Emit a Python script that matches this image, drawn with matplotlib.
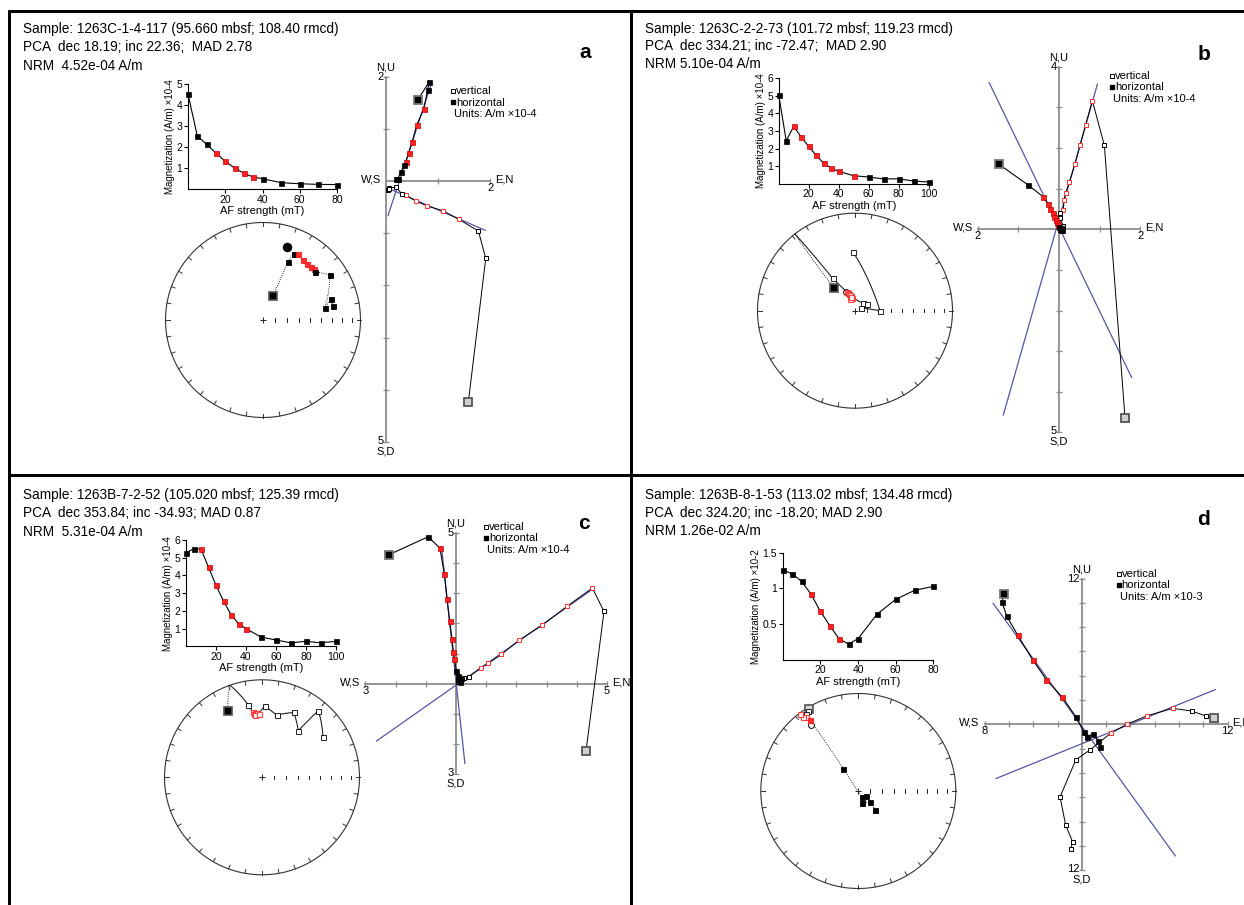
import numpy as np
import matplotlib
matplotlib.use("Agg")
import matplotlib.pyplot as plt

plt.rcParams['font.family'] = ['Liberation Sans', 'DejaVu Sans']

W, H = 1244, 905

# ---------------- panel a : 1263C-1-4-117 ----------------
a_header = ["Sample: 1263C-1-4-117 (95.660 mbsf; 108.40 rmcd)",
            "PCA  dec 18.19; inc 22.36;  MAD 2.78",
            "NRM  4.52e-04 A/m"]
a_pca = (18.19, 22.36)
a_field = [0, 5, 10, 15, 20, 25, 30, 35, 40, 50, 60, 70, 80]
a_mag = [4.52, 2.52, 2.13, 1.71, 1.32, 1.0, 0.75, 0.57, 0.49, 0.30, 0.25, 0.22, 0.21]
a_used = [15, 20, 25, 30, 35]
a_dec = [22.9, 23.2, 24.9, 28.1, 33.3, 38.2, 41.8, 44.8, 46.9, 56.1, 79.0, 72.7, 78.4]
a_inc = [68.6, 35.3, 26.4, 24.8, 27.0, 27.9, 27.6, 26.8, 28.3, 18.5, 35.9, 27.3, 28.0]
a_h_east = [0.607, 0.824, 0.799, 0.722, 0.588, 0.505, 0.435, 0.383, 0.351, 0.281, 0.224, 0.20, 0.21]
a_h_north = [1.553, 1.891, 1.751, 1.374, 1.073, 0.754, 0.543, 0.371, 0.307, 0.166, 0.038, 0.03, 0.045]
a_v_north = [1.578, 1.911, 1.770, 1.399, 1.099, 0.780, 0.569, 0.390, 0.313, 0.192, 0.064, 0.045, 0.06]
a_v_up = [-4.23, -1.482, -0.958, -0.735, -0.575, -0.473, -0.383, -0.275, -0.256, -0.121, -0.128, -0.173, -0.15]

# ---------------- panel b : 1263C-2-2-73 ----------------
b_header = ["Sample: 1263C-2-2-73 (101.72 mbsf; 119.23 rmcd)",
            "PCA  dec 334.21; inc -72.47;  MAD 2.90",
            "NRM 5.10e-04 A/m"]
b_pca = (334.21, -72.47)
b_field = [0, 5, 10, 15, 20, 25, 30, 35, 40, 50, 60, 70, 80, 90, 100]
b_mag = [5.05, 2.45, 3.26, 2.66, 2.12, 1.61, 1.16, 0.89, 0.70, 0.455, 0.38, 0.27, 0.28, 0.15, 0.095]
b_used = [10, 15, 20, 25, 30, 35, 40, 50]
b_dec = [317.2, 325.4, 336.4, 338.0, 339.8, 343.5, 341.0, 345.6, 336.0, 342.0, 48.7, 61.5, 63.4, 90.0, 358.0]
b_inc = [64.5, -57.0, -73.3, -74.5, -75.5, -77.3, -76.0, -78.8, -79.1, -78.0, -80.8, -79.0, -84.4, -69.1, -39.4]
b_h_east = [-1.478, -0.772, -0.394, -0.271, -0.213, -0.148, -0.115, -0.082, -0.057, -0.033, 0.0, 0.025, 0.049, 0.041, 0.066]
b_h_north = [1.601, 1.100, 0.805, 0.624, 0.509, 0.394, 0.312, 0.230, 0.164, 0.099, 0.049, 0.016, -0.016, 0.025, -0.025]
b_v_north = [1.626, 1.117, 0.821, 0.657, 0.517, 0.394, 0.255, 0.164, 0.123, 0.107, 0.033, 0.016, 0.107, 0.057, 0.025]
b_v_up = [-4.639, 2.069, 3.169, 2.578, 2.069, 1.601, 1.158, 0.903, 0.722, 0.468, 0.402, 0.287, 0.082, 0.016, -0.016]

# ---------------- panel c : 1263B-7-2-52 ----------------
c_header = ["Sample: 1263B-7-2-52 (105.020 mbsf; 125.39 rmcd)",
            "PCA  dec 353.84; inc -34.93; MAD 0.87",
            "NRM  5.31e-04 A/m"]
c_pca = (353.84, -34.93)
c_field = [0, 5, 10, 15, 20, 25, 30, 35, 40, 50, 60, 70, 80, 90, 100]
c_mag = [5.28, 5.49, 5.49, 4.46, 3.44, 2.56, 1.79, 1.28, 1.0, 0.53, 0.36, 0.20, 0.29, 0.20, 0.29]
c_used = [10, 15, 20, 25, 30, 35, 40]
c_dec = [332.8, 349.3, 352.0, 354.0, 355.0, 353.0, 356.0, 354.0, 357.0, 2.1, 13.2, 26.2, 37.9, 40.2, 56.7]
c_inc = [24.2, -25.6, -33.0, -34.0, -35.0, -35.0, -34.0, -36.0, -35.0, -27.8, -34.8, -26.8, -39.2, -11.6, -26.2]
c_h_east = [-2.219, -0.916, -0.530, -0.386, -0.298, -0.210, -0.132, -0.088, -0.055, 0.011, 0.055, 0.055, 0.11, 0.088, 0.132]
c_h_north = [4.272, 4.868, 4.481, 3.631, 2.815, 2.064, 1.479, 1.060, 0.806, 0.430, 0.265, 0.143, 0.17, 0.10, 0.066]
c_v_north = [4.305, 4.901, 4.514, 3.675, 2.848, 2.097, 1.501, 1.071, 0.828, 0.430, 0.276, 0.188, 0.17, 0.10, 0.066]
c_v_up = [-2.230, 2.395, 3.168, 2.561, 1.932, 1.446, 0.971, 0.673, 0.519, 0.232, 0.188, 0.143, 0.12, 0.08, 0.05]

# ---------------- panel d : 1263B-8-1-53 ----------------
d_header = ["Sample: 1263B-8-1-53 (113.02 mbsf; 134.48 rmcd)",
            "PCA  dec 324.20; inc -18.20; MAD 2.90",
            "NRM 1.26e-02 A/m"]
d_pca = (324.20, -18.20)
d_field = [0, 5, 10, 15, 20, 25, 30, 35, 40, 50, 60, 70, 80]
d_mag = [1.257, 1.206, 1.098, 0.921, 0.678, 0.477, 0.290, 0.22, 0.294, 0.636, 0.846, 0.972, 1.028]
d_used = [15, 20, 25, 30]
d_dec = [329.2, 328.0, 326.0, 324.5, 323.4, 322.8, 326.0, 326.5, 152.2, 124.3, 164.9, 132.4, 138.6]
d_inc = [-2.4, -3.0, -5.0, -8.0, -5.7, -0.5, 13.1, 67.5, 84.1, 82.7, 79.5, 77.0, 68.3]
d_h_east = [-6.42, -6.56, -6.18, -5.26, -4.05, -2.92, -1.59, -0.46, 0.14, 0.46, 0.95, 1.36, 1.53]
d_h_north = [10.72, 10.04, 8.90, 7.31, 5.32, 3.68, 2.21, 0.57, -0.60, -1.01, -0.79, -1.36, -1.83]
d_v_north = [10.84, 10.20, 9.08, 7.49, 5.40, 3.76, 2.37, 0.69, -0.49, -1.79, -1.33, -0.75, -0.92]
d_v_up = [0.49, 0.68, 1.09, 1.31, 0.71, 0.03, -0.74, -2.10, -2.92, -5.98, -8.29, -9.69, -10.29]

# ---------------- layout (pixels, y down) ----------------
panels = {
    'a': dict(header=(23, 29, 18.4), letter=(585, 52),
              decay=(188, 189, 149, 105, 80, 5, [1, 2, 3, 4, 5], "×10-4"),
              stereo=(263, 320), zijd=(386, 181, 52.2, (0, 2), (-5, 2), 1, ('2', '5', '', '2')),
              legend=(453.3, 91, "×10-4"), pca_span_h=(-1.566, 1.104), pca_span_v=(-0.909, 1.145)),
    'b': dict(header=(645, 29, 17.5), letter=(1204, 55),
              decay=(778.7, 183.7, 150, 105.4, 100, 6, [1, 2, 3, 4, 5, 6], "×10-4"),
              stereo=(855, 310.7), zijd=(1059, 229.3, 40.6, (-2, 2), (-5, 4), 1, ('4', '5', '2', '2')),
              legend=(1112, 76, "×10-4"), pca_span_h=(-4.489, 3.574), pca_span_v=(-6.40, 2.07)),
    'c': dict(header=(23, 495, 18.3), letter=(584, 523),
              decay=(186, 646.4, 150, 106.5, 100, 6, [1, 2, 3, 4, 5, 6], "×10-4"),
              stereo=(262, 777.3), zijd=(456, 683.7, 30.2, (-3, 5), (-3, 5), 1, ('5', '3', '3', '5')),
              legend=(486, 526.7, "×10-4"), pca_span_h=(-5.0, 2.215), pca_span_v=(-6.10, 2.63)),
    'd': dict(header=(645, 495, 17.9), letter=(1203, 519),
              decay=(782.7, 659.7, 150.7, 107, 80, 1.5, [0.5, 1, 1.5], "×10-2"),
              stereo=(858.3, 791), zijd=(1081.8, 724.3, 12.15, (-8, 12), (-12, 12), 2, ('12', '12', '8', '12')),
              legend=(1118.6, 573.7, "×10-3"), pca_span_h=(-19.06, 6.57), pca_span_v=(-12.74, 6.72)),
}
data = {
    'a': (a_header, a_pca, a_field, a_mag, a_used, a_dec, a_inc, a_h_east, a_h_north, a_v_north, a_v_up),
    'b': (b_header, b_pca, b_field, b_mag, b_used, b_dec, b_inc, b_h_east, b_h_north, b_v_north, b_v_up),
    'c': (c_header, c_pca, c_field, c_mag, c_used, c_dec, c_inc, c_h_east, c_h_north, c_v_north, c_v_up),
    'd': (d_header, d_pca, d_field, d_mag, d_used, d_dec, d_inc, d_h_east, d_h_north, d_v_north, d_v_up),
}

RED = '#ff2020'
RED_EDGE = '#c00000'
BLUE = '#5555a5'
GREY = '#8c8c8c'
PX = 0.72  # points per pixel at dpi 100
R_ST = 97.5

fig = plt.figure(figsize=(W / 100, H / 100), dpi=100)

canvas = fig.add_axes([0, 0, 1, 1])
canvas.set_xlim(0, W)
canvas.set_ylim(H, 0)
canvas.axis('off')


def px_axes(x0, top, w, h):
    ax = fig.add_axes([x0 / W, 1 - (top + h) / H, w / W, h / H])
    ax.patch.set_visible(False)
    return ax


def unit_vec(dec, inc):
    d, i = np.radians(dec), np.radians(inc)
    return np.array([np.cos(i) * np.sin(d), np.cos(i) * np.cos(d), np.sin(i)])


def project(p):
    # equal-area projection, both hemispheres folded onto the same net
    p = np.atleast_2d(p)
    h = np.hypot(p[:, 0], p[:, 1])
    h[h == 0] = 1e-9
    r = np.sqrt(np.clip(1 - np.abs(p[:, 2]), 0, 1))
    return r * p[:, 0] / h, r * p[:, 1] / h


def gc_runs(d1, i1, d2, i2, n=60):
    # great-circle path between two directions, split where it crosses the horizontal
    v1, v2 = unit_vec(d1, i1), unit_vec(d2, i2)
    om = np.arccos(np.clip(v1 @ v2, -1, 1))
    t = np.linspace(0, 1, n)[:, None]
    if om < 1e-6:
        p = (1 - t) * v1 + t * v2
    else:
        p = (np.sin((1 - t) * om) * v1 + np.sin(t * om) * v2) / np.sin(om)
    runs, cur, lower = [], [p[0]], p[0][2] >= 0
    for a, b in zip(p[:-1], p[1:]):
        if (a[2] >= 0) != (b[2] >= 0):
            c = a + a[2] / (a[2] - b[2]) * (b - a)
            c[2] = 0.0
            cur.append(c)
            runs.append((np.array(cur), lower))
            cur, lower = [c], not lower
        cur.append(b)
    runs.append((np.array(cur), lower))
    return runs


def draw_decay(spec, field, mag, used):
    x0, y0, w, h, xmax, ymax, yticks, unit = spec
    ax = px_axes(x0, y0 - h, w, h)
    ax.set_xlim(0, xmax)
    ax.set_ylim(0, ymax)
    for s in ['top', 'right']:
        ax.spines[s].set_visible(False)
    for s in ['left', 'bottom']:
        ax.spines[s].set_linewidth(0.8)
    ax.set_xticks(list(range(20, xmax + 1, 20)))
    ax.set_yticks(yticks)
    ax.set_yticklabels([f'{t:g}' for t in yticks])
    ax.tick_params(direction='out', length=3, width=0.8, labelsize=7.5, pad=1)
    ax.set_xlabel('AF strength (mT)', fontsize=8, labelpad=1)
    ax.set_ylabel('Magnetization (A/m) ' + unit, fontsize=7, labelpad=1)
    ax.plot(field, mag, color='black', lw=0.8, zorder=2, clip_on=False)
    for f, m in zip(field, mag):
        red = f in used
        ax.plot(f, m, 's', ms=3.6, mfc=RED if red else 'black',
                mec=RED_EDGE if red else 'black', mew=0.5, zorder=3, clip_on=False)


def draw_stereo(center, dec, inc, field, used, pca):
    cx, cy = center
    lim = 1.12
    side = 2 * lim * R_ST
    ax = px_axes(cx - side / 2, cy - side / 2, side, side)
    ax.set_xlim(-lim, lim)
    ax.set_ylim(-lim, lim)
    ax.set_aspect('equal')
    ax.axis('off')
    t = np.linspace(0, 2 * np.pi, 400)
    ax.plot(np.cos(t), np.sin(t), color='#333333', lw=0.8)
    tick = 4 / R_ST
    for k in range(36):
        a = np.radians(k * 10)
        ax.plot([(1 - tick) * np.sin(a), np.sin(a)], [(1 - tick) * np.cos(a), np.cos(a)],
                color='#333333', lw=0.7)
    for it in range(80, 0, -10):
        x, _ = project(unit_vec(90, it))
        ax.plot([x[0], x[0]], [-1.8 / R_ST, 1.8 / R_ST], color='#222222', lw=0.7)
    ax.plot(0, 0, '+', ms=4, mew=0.7, color='#222222')
    for j in range(len(dec) - 1):
        for pts, lower in gc_runs(dec[j], inc[j], dec[j + 1], inc[j + 1]):
            x, y = project(pts)
            if lower:
                ax.plot(x, y, color='#222222', lw=0.7, ls=(0, (1, 1.3)), zorder=2)
            else:
                ax.plot(x, y, color='#222222', lw=0.8, zorder=2)
    for k, (dd, ii, f) in enumerate(zip(dec, inc, field)):
        x, y = project(unit_vec(dd, ii))
        lower = ii >= 0
        red = f in used
        if k == 0:
            ax.plot(x, y, 's', ms=5.5, mfc='black' if lower else '#d8d8d8', mec='#555555',
                    mew=1.2, zorder=4)
        elif red:
            ax.plot(x, y, 's', ms=3.6, mfc=RED if lower else 'white', mec=RED if lower else '#ff3030',
                    mew=0.8, alpha=0.9, zorder=4)
        else:
            ax.plot(x, y, 's', ms=3.6, mfc='black' if lower else 'white', mec='black',
                    mew=0.6, zorder=4)
    x, y = project(unit_vec(*pca))
    if pca[1] >= 0:
        ax.plot(x, y, 'o', ms=5.8, mfc='black', mec='black', zorder=5)
    else:
        ax.plot(x, y, 'o', ms=4.2, mfc='white', mec='black', mew=0.7, zorder=3)


def draw_zijd(spec, field, used, pca, he, hn, vn, vu, span_h, span_v):
    ox, oy, s, hr, vr, step, ends = spec
    m = 16
    ax = px_axes(ox + hr[0] * s - m, oy - vr[1] * s - m,
                 (hr[1] - hr[0]) * s + 2 * m, (vr[1] - vr[0]) * s + 2 * m)
    ax.set_xlim(hr[0] - m / s, hr[1] + m / s)
    ax.set_ylim(vr[0] - m / s, vr[1] + m / s)
    ax.axis('off')
    ax.plot(hr, [0, 0], color=GREY, lw=1.3, zorder=1)
    ax.plot([0, 0], vr, color=GREY, lw=1.3, zorder=1)
    xt = [k for k in np.arange(hr[0], hr[1] + step / 2, step) if k != 0]
    yt = [k for k in np.arange(vr[0], vr[1] + step / 2, step) if k != 0]
    ax.plot(xt, np.zeros(len(xt)), '|', ms=5, mew=0.9, color=GREY, zorder=1)
    ax.plot(np.zeros(len(yt)), yt, '_', ms=5, mew=0.9, color=GREY, zorder=1)

    top, bottom, left, right = ends
    fs = 8
    kw = dict(textcoords='offset points', fontsize=fs, annotation_clip=False)
    ax.annotate('N,U', (0, vr[1]), xytext=(0, 4 * PX), ha='center', va='bottom', **kw)
    ax.annotate(top, (0, vr[1]), xytext=(-2 * PX, 0), ha='right', va='center', **kw)
    ax.annotate('S,D', (0, vr[0]), xytext=(0, -4 * PX), ha='center', va='top', **kw)
    ax.annotate(bottom, (0, vr[0]), xytext=(-2 * PX, 1), ha='right', va='center', **kw)
    ax.annotate('W,S', (hr[0], 0), xytext=(-5 * PX, 1), ha='right', va='center', **kw)
    if left:
        ax.annotate(left, (hr[0], 0), xytext=(0, -2 * PX), ha='center', va='top', **kw)
    ax.annotate('E,N', (hr[1], 0), xytext=(5 * PX, 1), ha='left', va='center', **kw)
    ax.annotate(right, (hr[1], 0), xytext=(0, -2 * PX), ha='center', va='top', **kw)

    he, hn, vn, vu = map(np.asarray, (he, hn, vn, vu))
    idx = [k for k, f in enumerate(field) if f in used]
    dec, inc = np.radians(pca[0]), np.radians(pca[1])
    dh = np.array([np.sin(dec), np.cos(dec)])
    dv = np.array([np.cos(inc) * np.cos(dec), -np.sin(inc)])
    dv = dv / np.hypot(*dv)
    th, tv = np.array(span_h), np.array(span_v)
    ax.plot(he[idx].mean() + th * dh[0], hn[idx].mean() + th * dh[1], color=BLUE, lw=0.9, zorder=2)
    ax.plot(vn[idx].mean() + tv * dv[0], vu[idx].mean() + tv * dv[1], color=BLUE, lw=0.9, zorder=2)

    ax.plot(he, hn, color='black', lw=0.8, zorder=3)
    ax.plot(vn, vu, color='black', lw=0.7, zorder=3)
    for k, f in enumerate(field):
        red = f in used
        if k == 0:
            ax.plot(he[k], hn[k], 's', ms=5.5, mfc='black', mec='#777777', mew=1.3, zorder=4)
            ax.plot(vn[k], vu[k], 's', ms=5.5, mfc='#cfcfcf', mec='#555555', mew=1.3, zorder=4)
            continue
        ax.plot(he[k], hn[k], 's', ms=3.6, mfc=RED if red else 'black',
                mec=RED_EDGE if red else 'black', mew=0.5, zorder=5)
        ax.plot(vn[k], vu[k], 's', ms=3.0, mfc='white',
                mec='#ff3030' if red else 'black', mew=0.7, zorder=4)


for key, lay in panels.items():
    header, pca, field, mag, used, dec, inc, he, hn, vn, vu = data[key]
    hx, hy, hdy = lay['header']
    for n, line in enumerate(header):
        canvas.text(hx, hy + n * hdy, line, fontsize=9.8, va='center', ha='left')
    lx, ly = lay['letter']
    canvas.text(lx, ly, key, fontsize=15, fontweight='bold', ha='center', va='center')
    gx, gy, unit = lay['legend']
    canvas.plot(gx, gy, 's', ms=3, mfc='white', mec='black', mew=0.7)
    canvas.plot(gx, gy + 11.5, 's', ms=3.2, mfc='black', mec='black')
    canvas.text(gx + 3, gy, 'vertical', fontsize=8, va='center')
    canvas.text(gx + 3, gy + 11.5, 'horizontal', fontsize=8, va='center')
    canvas.text(gx + 1, gy + 23, 'Units: A/m ' + unit, fontsize=8, va='center')

    draw_decay(lay['decay'], field, mag, used)
    draw_stereo(lay['stereo'], dec, inc, field, used, pca)
    draw_zijd(lay['zijd'], field, used, pca, he, hn, vn, vu, lay['pca_span_h'], lay['pca_span_v'])

# panel frame lines
frame = dict(color='black', lw=3 * PX, solid_capstyle='butt')
canvas.plot([8, W], [11.5, 11.5], **frame)
canvas.plot([9, 9], [10, H], **frame)
canvas.plot([631, 631], [10, H], **frame)
canvas.plot([8, W], [475, 475], **frame)

fig.savefig('out.png', dpi=100)
